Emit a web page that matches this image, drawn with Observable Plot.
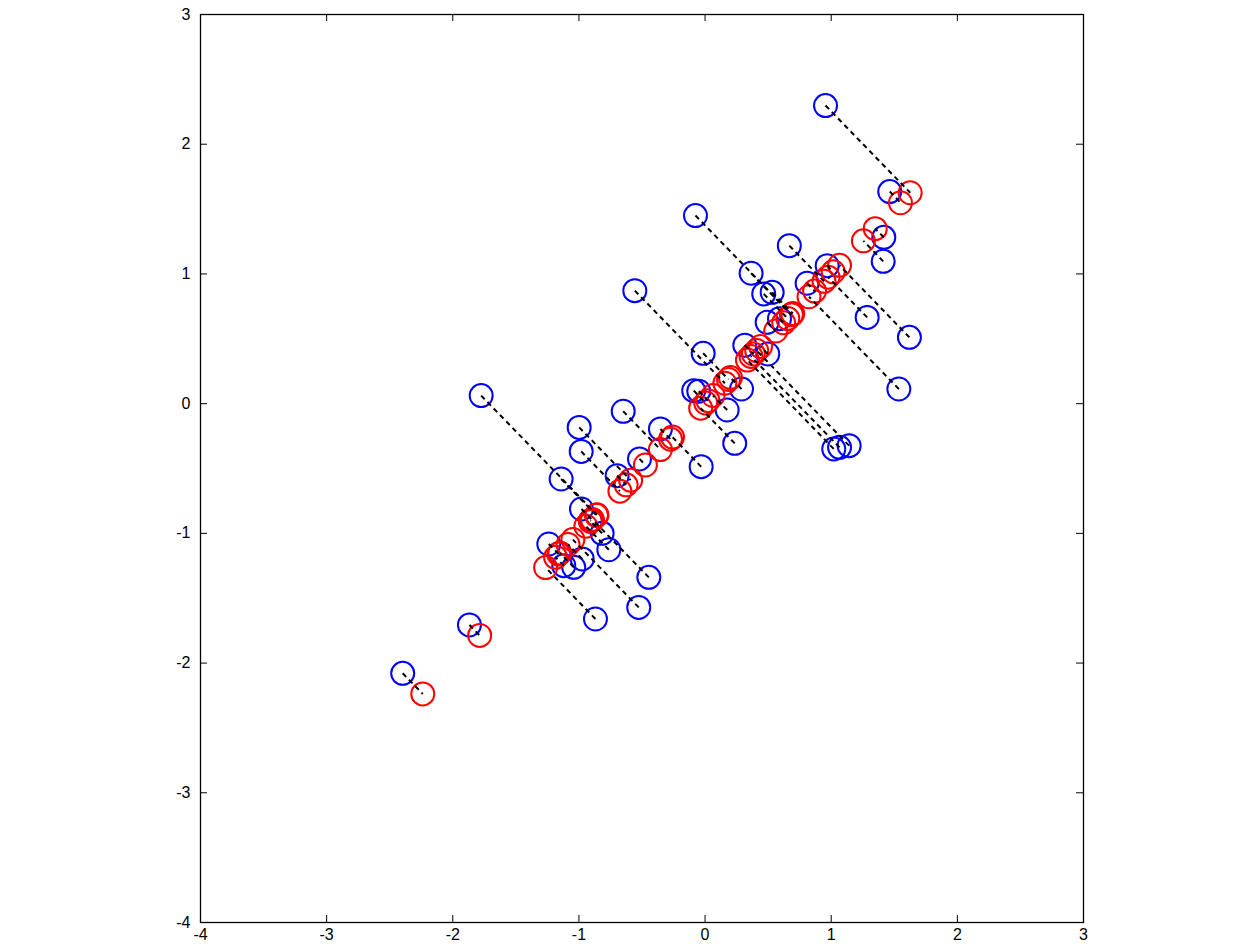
<!DOCTYPE html>
<html>
<head>
<meta charset="utf-8">
<script src="https://cdn.jsdelivr.net/npm/d3@7"></script>
<script src="https://cdn.jsdelivr.net/npm/@observablehq/plot@0.6"></script>
<style>
  html, body { margin: 0; padding: 0; background: #fff; }
  #chart svg { display: block; }
</style>
</head>
<body>
<div id="chart"></div>
<script>
// Original (normalized) data points — blue circles
const origX = [0.955, 1.464, -0.076, 0.668, 1.417, 1.412, 0.365, 0.968, 0.809, 0.465,
  0.532, -0.557, 1.285, 1.620, 0.492, -0.015, 0.315, 0.497, 0.289, 1.536,
  -1.775, -0.090, -0.050, 0.175, -0.649, -0.998, -0.354, 0.235, -0.982, 1.020,
  1.066, 1.142, -0.031, -0.520, -0.697, -1.141, -0.980, -0.816, -0.763, -1.239,
  -1.120, -1.041, -0.974, -0.446, -0.526, -0.869, -1.868, -2.397, 0.590, -0.909];
const origY = [2.298, 1.635, 1.450, 1.218, 1.282, 1.097, 1.005, 1.064, 0.928, 0.846,
  0.858, 0.871, 0.665, 0.511, 0.627, 0.388, 0.451, 0.383, 0.113, 0.113,
  0.062, 0.100, 0.096, -0.049, -0.059, -0.183, -0.195, -0.306, -0.368, -0.349,
  -0.337, -0.324, -0.486, -0.426, -0.555, -0.581, -0.812, -1.000, -1.126, -1.082,
  -1.249, -1.262, -1.197, -1.339, -1.571, -1.660, -1.706, -2.079, 0.655, -0.902];
// Recovered (projected) points — red circles, lying on the line y = x
const recX = [1.626, 1.549, 0.687, 0.943, 1.349, 1.255, 0.685, 1.016, 0.868, 0.656,
  0.695, 0.157, 0.975, 1.066, 0.560, 0.186, 0.383, 0.440, 0.201, 0.824,
  -0.857, 0.005, 0.023, 0.063, -0.354, -0.590, -0.274, -0.035, -0.675, 0.336,
  0.364, 0.409, -0.258, -0.473, -0.626, -0.861, -0.896, -0.908, -0.945, -1.160,
  -1.185, -1.151, -1.086, -0.893, -1.048, -1.264, -1.787, -2.238, 0.623, -0.905];
const recY = recX.slice();

const xTicks = [-4, -3, -2, -1, 0, 1, 2, 3];
const yTicks = [-4, -3, -2, -1, 0, 1, 2, 3];

const pts = origX.map((x, i) => ({x, y: origY[i], rx: recX[i], ry: recY[i]}));

const W = 1258, H = 950;
const mL = 200, mR = 175, mT = 14, mB = 28;
const innerH = H - mT - mB, innerW = W - mL - mR;
const tickLen = 7;
const font = "'Liberation Sans', Arial, Helvetica, sans-serif";
const fs = 16;

const chart = Plot.plot({
  width: W,
  height: H,
  marginLeft: mL,
  marginRight: mR,
  marginTop: mT,
  marginBottom: mB,
  style: {fontFamily: font, fontSize: fs + "px", color: "black", background: "white"},
  x: {domain: [-4, 3], ticks: xTicks, label: null},
  y: {domain: [-4, 3], ticks: yTicks, label: null},
  marks: [
    Plot.axisX({ticks: xTicks, tickSize: 0, tickPadding: 6, tickFormat: d => String(d), label: null, fill: "black"}),
    Plot.axisY({ticks: yTicks, tickSize: 0, tickPadding: 10, tickFormat: d => String(d), label: null, fill: "black"}),
    Plot.tickX(xTicks, {x: d => d, stroke: "black", strokeWidth: 1, insetTop: innerH - tickLen}),
    Plot.tickX(xTicks, {x: d => d, stroke: "black", strokeWidth: 1, insetBottom: innerH - tickLen}),
    Plot.tickY(yTicks, {y: d => d, stroke: "black", strokeWidth: 1, insetRight: innerW - tickLen}),
    Plot.tickY(yTicks, {y: d => d, stroke: "black", strokeWidth: 1, insetLeft: innerW - tickLen}),
    Plot.dot(pts, {x: "x", y: "y", r: 11.5, stroke: "#0000ff", strokeWidth: 2, fill: "none"}),
    Plot.dot(pts, {x: "rx", y: "ry", r: 11.5, stroke: "#ff0000", strokeWidth: 2, fill: "none"}),
    Plot.link(pts, {x1: "x", y1: "y", x2: "rx", y2: "ry", stroke: "black", strokeWidth: 2, strokeDasharray: "5,4"}),
    Plot.frame({stroke: "black", strokeWidth: 1.3})
  ]
});
d3.select(chart).selectAll("g").filter(function () { return this.getAttribute("font-size") != null; })
  .attr("font-size", fs);
d3.select(chart).selectAll("text")
  .attr("font-size", fs)
  .attr("font-family", font)
  .style("font-size", fs + "px")
  .style("font-family", font);
document.getElementById("chart").appendChild(chart);
</script>
</body>
</html>
